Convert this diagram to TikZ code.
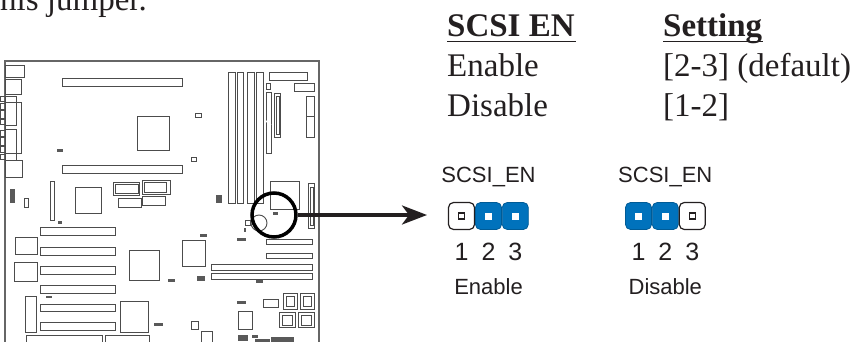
\documentclass[tikz,border=0pt]{standalone}
\usepackage{fontspec}
\setmainfont{Liberation Serif}
\setsansfont{Liberation Sans}
\usetikzlibrary{positioning,arrows.meta}
\definecolor{jumperblue}{HTML}{0072BC}
\definecolor{inkdark}{HTML}{231F20}
\tikzset{
  part/.style={draw=black!70,line width=0.9pt},
  chipdark/.style={fill=black!65,draw=none},
  headtext/.style={font=\fontsize{33}{33}\selectfont\bfseries,anchor=base west,inner sep=0pt,text=inkdark},
  rowtext/.style={font=\fontsize{33}{33}\selectfont,anchor=base west,inner sep=0pt,text=inkdark},
  sanstext/.style={font=\sffamily\fontsize{22}{22}\selectfont,inner sep=0pt,text=inkdark},
  pinnum/.style={font=\sffamily\fontsize{25}{25}\selectfont,inner sep=0pt,text=inkdark},
  openpin/.style={draw=inkdark,line width=1.2pt,fill=white,rounded corners=5pt,minimum width=26pt,minimum height=27pt,inner sep=0pt},
  closedpin/.style={draw=jumperblue!80!black,line width=0.8pt,fill=jumperblue,rounded corners=5pt,minimum width=26pt,minimum height=27pt,inner sep=0pt},
  holeopen/.style={draw=inkdark,line width=1.3pt,fill=white,minimum size=6pt,inner sep=0pt},
  holeclosed/.style={fill=white,minimum size=7pt,inner sep=0pt},
}
\begin{document}
\begin{tikzpicture}[x=1pt,y=-1pt]
  \useasboundingbox (0,0) rectangle (856,342);
  % text on the right
  \node[rowtext,anchor=base east] (intro) at (147,11) {this jumper.};
  \node[headtext] (headname) at (447,37) {SCSI EN};
  \node[headtext] (headset) at (663,37) {Setting};
  \draw[inkdark,line width=1.5pt] (headname.base west)++(0,4.5) -- ++(129,0);
  \draw[inkdark,line width=1.5pt] (headset.base west)++(0,4.5) -- ++(100,0);
  \node[rowtext] (enrow) at (447,77) {Enable};
  \node[rowtext] (enval) at (663,77) {[2-3] (default)};
  \node[rowtext] (disrow) at (447,117) {Disable};
  \node[rowtext] (disval) at (663,117) {[1-2]};
  % board outline
  \draw[draw=black!60,line width=1.2pt] (5,345) -- (5,61) -- (319,61) -- (319,345);
  % board parts
  \foreach \xa/\ya/\xb/\yb in {
    5/65/24/77, 5/79/21/94, 5/96/16/102, 5/102/21/153, 5/102/16/125, 5/129/16/153, 5/153/16/160, 5/160/22/177,
    0/96/5/101, 0/103/5/109, 0/110/5/118, 0/119/5/124, 0/130/5/136, 0/137/5/145, 0/146/5/152, 0/154/5/159,
    62/78/182/86, 137/116/169/150, 195/113/201/117, 191/157/196/161, 62/165/182/173,
    228/72/235/203, 237/72/243/203, 247/72/254/203, 256/72/263/203,
    269/72/307/80, 294/83/314/91, 266/83/270/89, 266/92/271/153,
    274/93/280/137, 276/96/279/134, 306/96/314/116, 306/116/314/137,
    50/181/54/220, 75/187/101/213, 113/182/139/195, 115/184/138/193, 142/180/170/194, 144/182/166/192,
    118/198/141/207, 142/196/165/205, 24/198/28/207,
    270/181/299/209, 308/183/314/228, 310/187/313/225, 245/220/250/225,
    266/239/312/244, 266/253/312/258, 211/264/312/270, 211/273/312/279,
    40/227/115/235, 40/247/115/255, 40/266/115/274, 40/285/115/293, 40/304/115/311, 40/322/115/330,
    15/237/37/254, 14/262/37/281, 25/296/36/332, 129/250/159/280, 182/240/205/266, 120/301/148/332,
    191/321/198/329, 201/331/212/345, 26/335/102/345, 105/335/149/345,
    263/299/278/307, 238/311/252/329,
    283/293/297/309, 286/296/294/306, 300/293/314/309, 303/296/311/306,
    279/312/295/327, 282/315/292/325, 298/312/314/327, 301/315/311/325}
    \draw[part] (\xa,\ya) rectangle (\xb,\yb);
  \foreach \xa/\ya/\xb/\yb in {
    57/149/63/152, 10/189/15/203, 216/195/222/203, 273/212/278/215, 244/228/246/232, 237/238/246/241,
    58/221/62/224, 200/234/207/237, 168/279/175/282, 197/276/205/281, 256/280/263/283, 46/296/52/298,
    237/301/246/304, 154/323/163/326, 238/335/248/341, 252/335/258/338, 255/339/270/342, 271/337/294/342}
    \fill[chipdark] (\xa,\ya) rectangle (\xb,\yb);
  \draw[draw=white,line width=1.4pt] (266,121) -- (271,125) (287,241.5) -- (291,241.5) (287,255.5) -- (291,255.5);
  \draw[part] (259,223) circle (8);
  % lens and pointer
  \node[circle,draw=black,line width=3.5pt,minimum size=44pt,inner sep=0pt] (lens) at (274,215) {};
  \coordinate (pointer) at (427,215);
  \draw[line width=3.5pt,inkdark,-{Stealth[length=25pt,width=19pt,inset=7pt]}] (lens.east) -- (pointer);
  % jumper enable
  \node[openpin] (ea) at (461.5,216) {};
  \node[closedpin,right=0pt of ea] (eb) {};
  \node[closedpin,right=0pt of eb] (ec) {};
  % jumper disable
  \node[closedpin] (db) at (638.5,216) {};
  \node[closedpin,right=0pt of db] (dc) {};
  \node[openpin,right=0pt of dc] (dd) {};
  \node[holeopen] at (ea) {};
  \node[holeclosed] at (eb) {};
  \node[holeclosed] at (ec) {};
  \node[holeclosed] at (db) {};
  \node[holeclosed] at (dc) {};
  \node[holeopen] at (dd) {};
  \node[sanstext,above=15pt of eb] (entitle) {SCSI\_EN};
  \node[sanstext,above=15pt of dc] (distitle) {SCSI\_EN};
  \node[pinnum,below=13pt of ea] (ena) {1};
  \node[pinnum,below=13pt of eb] (enb) {2};
  \node[pinnum,below=13pt of ec] (enc) {3};
  \node[pinnum,below=13pt of db] (dia) {1};
  \node[pinnum,below=13pt of dc] (dib) {2};
  \node[pinnum,below=13pt of dd] (dic) {3};
  \node[sanstext,below=18pt of enb] (enlabel) {Enable};
  \node[sanstext,below=18pt of dib] (dislabel) {Disable};
\end{tikzpicture}
\end{document}
